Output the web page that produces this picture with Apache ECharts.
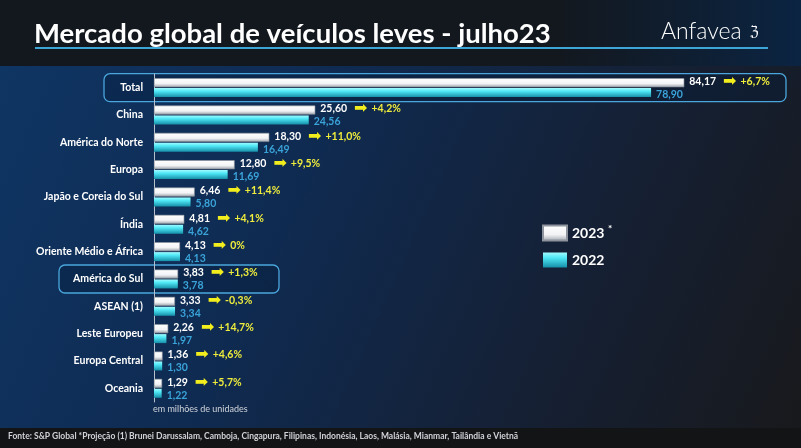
<!DOCTYPE html>
<html>
<head>
<meta charset="utf-8">
<script src="https://cdn.jsdelivr.net/npm/echarts@6/dist/echarts.min.js"></script>
<style>
html,body{margin:0;padding:0;background:#12171d;}
#c{width:801px;height:448px;}
</style>
</head>
<body>
<div id="c"></div>
<script>
const categories = ['Total','China','América do Norte','Europa','Japão e Coreia do Sul','Índia','Oriente Médio e África','América do Sul','ASEAN (1)','Leste Europeu','Europa Central','Oceania'];
const values2023 = [84.17,25.60,18.30,12.80,6.46,4.81,4.13,3.83,3.33,2.26,1.36,1.29];
const values2022 = [78.90,24.56,16.49,11.69,5.80,4.62,4.13,3.78,3.34,1.97,1.30,1.22];
const changes = ['+6,7%','+4,2%','+11,0%','+9,5%','+11,4%','+4,1%','0%','+1,3%','-0,3%','+14,7%','+4,6%','+5,7%'];
const highlighted = ['Total','América do Sul'];

const FONT = 'Lato';
const fmt = v => v.toFixed(2).replace('.', ',');

const chart = echarts.init(document.getElementById('c'), null, {renderer:'canvas'});

const bgGraphics = [
  {type:'rect', z:-10, silent:true, shape:{x:0,y:0,width:801,height:66},
   style:{fill:new echarts.graphic.LinearGradient(0,0,1,0,[{offset:0,color:'#13181e'},{offset:0.7,color:'#13181f'},{offset:1,color:'#0b2442'}])}},
  {type:'rect', z:-10, silent:true, shape:{x:0,y:66,width:801,height:362},
   style:{fill:new echarts.graphic.LinearGradient(0,0,1,1,[{offset:0,color:'#0f3563'},{offset:0.35,color:'#0f2b52'},{offset:0.7,color:'#152034'},{offset:1,color:'#18191c'}])}},
  {type:'rect', z:-10, silent:true, shape:{x:0,y:428,width:801,height:20}, style:{fill:'#131416'}},
  {type:'line', z:5, silent:true, shape:{x1:35,y1:48,x2:768,y2:48}, style:{stroke:'#3ea6d6', lineWidth:2}},
  {type:'text', z:5, left:661, top:20, style:{text:'Anfavea', fill:'#ffffff', font:'300 23px Lato'}},
  {type:'text', z:5, left:750, top:25, style:{text:'ℨ', fill:'#ffffff', font:'14px DejaVu Sans'}},
  {type:'text', z:5, left:153, top:405, style:{text:'em milhões de unidades', fill:'#d0d4da', font:'9px Lato'}},
  {type:'text', z:5, left:8, top:432, style:{text:'Fonte: S&P Global *Projeção (1) Brunei Darussalam, Camboja, Cingapura, Filipinas, Indonésia, Laos, Malásia, Mianmar, Tailândia e Vietnã', fill:'#cfd2d6', font:'bold 8.5px Lato'}}
];

const option = {
  animation:false,
  backgroundColor:'#12171d',
  title:{text:'Mercado global de veículos leves - julho23', left:29, top:15,
    textStyle:{color:'#ffffff', fontSize:27.5, fontWeight:'bold', fontFamily:FONT}},
  legend:{orient:'vertical', left:537, top:219, itemWidth:24, itemHeight:15, itemGap:11,
    data:['2023','2022'], icon:'rect',
    formatter: n => n === '2023' ? n + ' {s|*}' : n,
    textStyle:{color:'#ffffff', fontSize:14, fontWeight:'bold', fontFamily:FONT,
      rich:{s:{color:'#ffffff', fontSize:10, fontWeight:'bold', verticalAlign:'top', padding:[0,0,8,0]}}}},
  grid:{left:154, top:74, width:630, height:328, containLabel:false},
  xAxis:{type:'value', min:0, max:100, show:false},
  yAxis:{type:'category', inverse:true, data:categories,
    axisLine:{show:true, lineStyle:{color:'#b8c0cc', width:1}},
    axisTick:{show:false},
    axisLabel:{color:'#ffffff', fontSize:10.5, fontWeight:'bold', fontFamily:FONT, margin:11}},
  series:[
    {name:'2023', type:'bar', data:values2023, barWidth:9, barGap:'10%',
     itemStyle:{color:new echarts.graphic.LinearGradient(0,0,0,1,[{offset:0,color:'#ffffff'},{offset:0.6,color:'#f2f3f5'},{offset:1,color:'#9aa1aa'}]),
       borderColor:'#8e959e', borderWidth:0.6},
     label:{show:true, position:'right', distance:5, offset:[0,-1],
       formatter: p => '{v|' + fmt(p.value) + '}{a|➡}{p|' + changes[p.dataIndex] + '}',
       rich:{
         v:{color:'#ffffff', fontSize:10.5, fontWeight:'bold', fontFamily:FONT},
         a:{color:'#f2ee1e', fontSize:16, fontFamily:'DejaVu Sans', padding:[0,4,0,7]},
         p:{color:'#eeec3c', fontSize:10.5, fontWeight:'bold', fontFamily:FONT}
       }}},
    {name:'2022', type:'bar', data:values2022, barWidth:9,
     itemStyle:{color:new echarts.graphic.LinearGradient(0,0,0,1,[{offset:0,color:'#a0fbff'},{offset:0.35,color:'#4fe8f6'},{offset:1,color:'#168fa9'}])},
     label:{show:true, position:'right', distance:5, offset:[0,2],
       formatter: p => fmt(p.value),
       color:'#3aa3d8', fontSize:10.5, fontWeight:'bold', fontFamily:FONT}}
  ],
  graphic: bgGraphics
};
chart.setOption(option);

const boxX = {'Total':[104,786], 'América do Sul':[59,279]};
const boxes = highlighted.map(name => {
  const y = chart.convertToPixel({yAxisIndex:0}, name);
  const [x0,x1] = boxX[name];
  return {type:'rect', z:-5, silent:true,
    shape:{x:x0, y:y-14, width:x1-x0, height:28, r:6},
    style:{fill:'rgba(6,28,58,0.35)', stroke:'#4aa6dc', lineWidth:1.3}};
});
chart.setOption({graphic: bgGraphics.concat(boxes)}, {replaceMerge:['graphic']});
</script>
</body>
</html>
